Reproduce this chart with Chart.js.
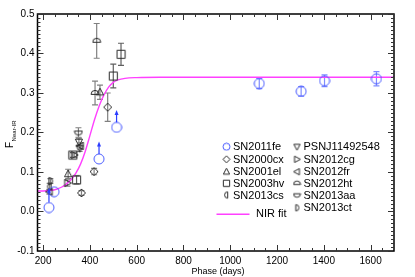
<!DOCTYPE html>
<html><head><meta charset="utf-8">
<script src="https://cdn.jsdelivr.net/npm/chart.js@4/dist/chart.umd.min.js"></script>
<style>html,body{margin:0;padding:0;background:#fff}#wrap{width:415px;height:277px;position:relative}</style>
</head><body><div id="wrap"><canvas id="c" width="415" height="277"></canvas></div>
<script>
// ---- data ----
const xTickValues = [200, 400, 600, 800, 1000, 1200, 1400, 1600];
const xTickLabels = ['200', '400', '600', '800', '1000', '1200', '1400', '1600'];
const yTickValues = [-0.1, 0.0, 0.1, 0.2, 0.3, 0.4, 0.5];
const yTickLabels = ['-0.1', '0.0', '0.1', '0.2', '0.3', '0.4', '0.5'];

const sn2011feX = [225, 247, 439, 514, 1124, 1303, 1403, 1625];
const sn2011feY = [0.010, 0.050, 0.133, 0.213, 0.324, 0.304, 0.331, 0.336];
const sn2011feErr = [0, 0, 0, 0, 0.013, 0.012, 0.015, 0.018];
const sn2011feLimitX = [225, 439, 514];
const sn2011feLimitFrom = [0.010, 0.133, 0.213];
const sn2011feLimitTo = [0.060, 0.177, 0.257];

const sn2000cxX = [364, 418, 476];
const sn2000cxY = [0.047, 0.101, 0.264];
const sn2000cxErr = [0.006, 0.008, 0.036];

const sn2001elX = [307, 443];
const sn2001elY = [0.095, 0.302];
const sn2001elErr = [0.012, 0.018];

const sn2003hvX = [327, 343, 500, 533];
const sn2003hvY = [0.143, 0.080, 0.343, 0.398];
const sn2003hvErr = [0.006, 0.010, 0.030, 0.028];

const sn2013csX = [228];
const sn2013csY = [0.063];
const sn2013csErr = [0.008];

const psnjX = [353, 356];
const psnjY = [0.176, 0.160];
const psnjErr = [0.010, 0.008];

const sn2012cgX = [333, 304];
const sn2012cgY = [0.143, 0.072];
const sn2012cgErr = [0.006, 0.008];

const sn2012frX = [227, 360];
const sn2012frY = [0.050, 0.166];
const sn2012frErr = [0.006, 0.008];

const sn2012htX = [429, 422];
const sn2012htY = [0.432, 0.300];
const sn2012htErr = [0.044, 0.030];

const sn2013aaX = [351];
const sn2013aaY = [0.200];
const sn2013aaErr = [0.012];

const sn2013ctX = [231];
const sn2013ctY = [0.077];
const sn2013ctErr = [0.006];

const fitX = [176, 200, 230, 260, 280, 300, 320, 340, 360, 380, 400, 420, 440, 460, 480, 500, 520, 550, 600, 700, 1000, 1700];
const fitY = [0.052, 0.052, 0.053, 0.057, 0.062, 0.070, 0.081, 0.097, 0.120, 0.152, 0.192, 0.233, 0.268, 0.295, 0.315, 0.327, 0.333, 0.337, 0.339, 0.340, 0.340, 0.340];

// ---- markers ----
const BLUE = '#4b5cff', BLACK = '#2a2a2a';
function makeMarker(kind, color, size, lw) {
  const c = document.createElement('canvas');
  c.width = size; c.height = size;
  const g = c.getContext('2d');
  g.strokeStyle = color; g.lineWidth = lw;
  const m = size / 2, r = size / 2 - 1;
  g.beginPath();
  switch (kind) {
    case 'circle': g.arc(m, m, r, 0, Math.PI * 2); break;
    case 'rect': g.rect(m - r * 0.9, m - r * 0.9, r * 1.8, r * 1.8); break;
    case 'diamond': g.moveTo(m, m - r); g.lineTo(m + r, m); g.lineTo(m, m + r); g.lineTo(m - r, m); g.closePath(); break;
    case 'triUp': g.moveTo(m, m - r); g.lineTo(m + r * 0.9, m + r * 0.7); g.lineTo(m - r * 0.9, m + r * 0.7); g.closePath(); break;
    case 'triDown': g.moveTo(m, m + r); g.lineTo(m + r * 0.9, m - r * 0.7); g.lineTo(m - r * 0.9, m - r * 0.7); g.closePath(); break;
    case 'triRight': g.moveTo(m + r, m); g.lineTo(m - r * 0.7, m - r * 0.9); g.lineTo(m - r * 0.7, m + r * 0.9); g.closePath(); break;
    case 'triLeft': g.moveTo(m - r, m); g.lineTo(m + r * 0.7, m - r * 0.9); g.lineTo(m + r * 0.7, m + r * 0.9); g.closePath(); break;
    case 'dome': g.arc(m, m + r * 0.35, r, Math.PI, 0); g.closePath(); break;
    case 'bowl': g.arc(m, m - r * 0.35, r, 0, Math.PI); g.closePath(); break;
    case 'leftHalf': g.arc(m + r * 0.35, m, r * 0.9, Math.PI / 2, Math.PI * 1.5); g.closePath(); break;
    case 'rightHalf': g.arc(m - r * 0.35, m, r * 0.9, -Math.PI / 2, Math.PI / 2); g.closePath(); break;
  }
  g.stroke();
  return c;
}

function pts(xs, ys) { return xs.map((x, i) => ({ x: x, y: ys[i] })); }

const series = [
  { label: 'SN2011fe', x: sn2011feX, y: sn2011feY, err: sn2011feErr, kind: 'circle', color: BLUE, ecol: '#7f8cff', size: 12, lw: 1 },
  { label: 'SN2000cx', x: sn2000cxX, y: sn2000cxY, err: sn2000cxErr, kind: 'diamond', color: BLACK, ecol: '#808080', size: 10, lw: 1 },
  { label: 'SN2001el', x: sn2001elX, y: sn2001elY, err: sn2001elErr, kind: 'triUp', color: BLACK, ecol: '#808080', size: 10, lw: 1 },
  { label: 'SN2003hv', x: sn2003hvX, y: sn2003hvY, err: sn2003hvErr, kind: 'rect', color: BLACK, ecol: '#606060', size: 11, lw: 1 },
  { label: 'SN2013cs', x: sn2013csX, y: sn2013csY, err: sn2013csErr, kind: 'leftHalf', color: BLACK, ecol: '#808080', size: 10, lw: 1 },
  { label: 'PSNJ11492548', x: psnjX, y: psnjY, err: psnjErr, kind: 'triDown', color: BLACK, ecol: '#808080', size: 10, lw: 1 },
  { label: 'SN2012cg', x: sn2012cgX, y: sn2012cgY, err: sn2012cgErr, kind: 'triRight', color: BLACK, ecol: '#808080', size: 10, lw: 1 },
  { label: 'SN2012fr', x: sn2012frX, y: sn2012frY, err: sn2012frErr, kind: 'triLeft', color: BLACK, ecol: '#808080', size: 10, lw: 1 },
  { label: 'SN2012ht', x: sn2012htX, y: sn2012htY, err: sn2012htErr, kind: 'dome', color: BLACK, ecol: '#808080', size: 10, lw: 1 },
  { label: 'SN2013aa', x: sn2013aaX, y: sn2013aaY, err: sn2013aaErr, kind: 'bowl', color: BLACK, ecol: '#808080', size: 10, lw: 1 },
  { label: 'SN2013ct', x: sn2013ctX, y: sn2013ctY, err: sn2013ctErr, kind: 'rightHalf', color: BLACK, ecol: '#808080', size: 10, lw: 1 }
];
series.forEach(s => { s.img = makeMarker(s.kind, s.color, s.size, s.lw); s.legImg = makeMarker(s.kind, s.color, 9, 1); });

const datasets = [{
  label: 'NIR fit', data: pts(fitX, fitY), showLine: true, borderColor: '#ff40ff', borderWidth: 1.4,
  pointRadius: 0, cubicInterpolationMode: 'monotone', fill: false, order: 20
}];
series.forEach((s, i) => {
  datasets.push({ label: s.label, data: pts(s.x, s.y), pointStyle: s.img, pointRadius: 5, showLine: false, errs: s.err, ecol: s.ecol, order: 1 });
});

const FONT = "'Liberation Sans', Arial, Helvetica, sans-serif";

const decor = {
  id: 'decor',
  beforeDatasetsDraw(chart) {
    const ctx = chart.ctx, xs = chart.scales.x, ys = chart.scales.y;
    ctx.save();
    chart.data.datasets.forEach(ds => {
      if (!ds.errs) return;
      ctx.strokeStyle = ds.ecol; ctx.lineWidth = 1.2;
      ds.data.forEach((p, i) => {
        const e = ds.errs[i]; if (!e) return;
        const px = xs.getPixelForValue(p.x), y1 = ys.getPixelForValue(p.y - e), y2 = ys.getPixelForValue(p.y + e);
        ctx.beginPath();
        ctx.moveTo(px, y1); ctx.lineTo(px, y2);
        ctx.moveTo(px - 3, y1); ctx.lineTo(px + 3, y1);
        ctx.moveTo(px - 3, y2); ctx.lineTo(px + 3, y2);
        ctx.stroke();
      });
    });
    ctx.restore();
  },
  afterDatasetsDraw(chart) {
    const ctx = chart.ctx, xs = chart.scales.x, ys = chart.scales.y, a = chart.chartArea;
    ctx.save();
    // lower-limit arrows for SN2011fe
    ctx.strokeStyle = '#2b3cff'; ctx.fillStyle = '#2b3cff'; ctx.lineWidth = 1.2;
    sn2011feLimitX.forEach((x, i) => {
      const px = xs.getPixelForValue(x);
      const y0 = ys.getPixelForValue(sn2011feLimitFrom[i]) - 5;
      const y1 = ys.getPixelForValue(sn2011feLimitTo[i]);
      ctx.beginPath(); ctx.moveTo(px, y0); ctx.lineTo(px, y1 + 3); ctx.stroke();
      ctx.beginPath(); ctx.moveTo(px, y1); ctx.lineTo(px - 2, y1 + 5); ctx.lineTo(px + 2, y1 + 5); ctx.closePath(); ctx.fill();
    });
    // frame
    ctx.strokeStyle = '#000'; ctx.lineWidth = 1.5;
    ctx.strokeRect(a.left, a.top, a.right - a.left, a.bottom - a.top);
    // inner ticks
    ctx.strokeStyle = '#333'; ctx.lineWidth = 1;
    ctx.beginPath();
    for (let v = 200; v <= 1700; v += 50) {
      const px = Math.round(xs.getPixelForValue(v)) + 0.5;
      if (px < a.left || px > a.right) continue;
      const L = (v % 200 === 0) ? 6 : 3;
      ctx.moveTo(px, a.bottom); ctx.lineTo(px, a.bottom - L);
      ctx.moveTo(px, a.top); ctx.lineTo(px, a.top + L);
    }
    for (let k = -10; k <= 50; k++) {
      const v = k / 100;
      const py = Math.round(ys.getPixelForValue(v)) + 0.5;
      if (py < a.top - 0.5 || py > a.bottom + 0.5) continue;
      const L = (k % 10 === 0) ? 6 : 3;
      ctx.moveTo(a.left, py); ctx.lineTo(a.left + L, py);
      ctx.moveTo(a.right, py); ctx.lineTo(a.right - L, py);
    }
    ctx.stroke();
    // legend
    const col1 = series.slice(0, 5), col2 = series.slice(5);
    const rows = [146.7, 159.3, 171.7, 183.3, 195, 207.8];
    ctx.fillStyle = '#000'; ctx.font = '11px ' + FONT; ctx.textBaseline = 'middle'; ctx.textAlign = 'left';
    col1.forEach((s, i) => {
      ctx.drawImage(s.legImg, 226.5 - s.legImg.width / 2, rows[i] - s.legImg.height / 2);
      ctx.fillText(s.label, 233, rows[i] + 0.5);
    });
    col2.forEach((s, i) => {
      ctx.drawImage(s.legImg, 297 - s.legImg.width / 2, rows[i] - s.legImg.height / 2);
      ctx.fillText(s.label, 303.5, rows[i] + 0.5);
    });
    ctx.strokeStyle = '#ff40ff'; ctx.lineWidth = 1.5;
    ctx.beginPath(); ctx.moveTo(216.5, 214.3); ctx.lineTo(249.5, 214.3); ctx.stroke();
    ctx.fillStyle = '#000';
    ctx.fillText('NIR fit', 256, 214);
    // axis titles
    ctx.font = '9px ' + FONT; ctx.textAlign = 'center'; ctx.textBaseline = 'alphabetic';
    ctx.fillText('Phase (days)', 218, 274);
    ctx.save();
    ctx.translate(13, 148); ctx.rotate(-Math.PI / 2);
    ctx.textAlign = 'left'; ctx.font = '10px ' + FONT;
    ctx.fillText('F', 0, 0);
    const fw = ctx.measureText('F').width;
    ctx.font = '6px ' + FONT;
    ctx.fillText('Near-IR', fw + 0.5, 2.5);
    ctx.restore();
    ctx.restore();
  }
};

new Chart(document.getElementById('c'), {
  type: 'scatter',
  data: { datasets: datasets },
  options: {
    responsive: false, animation: false, devicePixelRatio: 1,
    layout: { padding: { top: 14, right: 21, left: 0, bottom: 0 } },
    plugins: { legend: { display: false }, tooltip: { enabled: false } },
    scales: {
      x: {
        type: 'linear', min: 176, max: 1700,
        grid: { display: false, drawTicks: false }, border: { display: false },
        afterBuildTicks: s => { s.ticks = xTickValues.map(v => ({ value: v })); },
        afterFit: s => { s.height = 26; },
        ticks: { padding: 4, color: '#000', font: { family: FONT, size: 10 }, autoSkip: false, maxRotation: 0,
                 callback: (v, i) => xTickLabels[i] }
      },
      y: {
        type: 'linear', min: -0.1, max: 0.5,
        grid: { display: false, drawTicks: false }, border: { display: false },
        afterBuildTicks: s => { s.ticks = yTickValues.map(v => ({ value: v })); },
        afterFit: s => { s.width = 37.5; },
        ticks: { padding: 3, color: '#000', font: { family: FONT, size: 10 }, autoSkip: false,
                 callback: (v, i) => yTickLabels[i] }
      }
    }
  },
  plugins: [decor]
});
</script></body></html>
